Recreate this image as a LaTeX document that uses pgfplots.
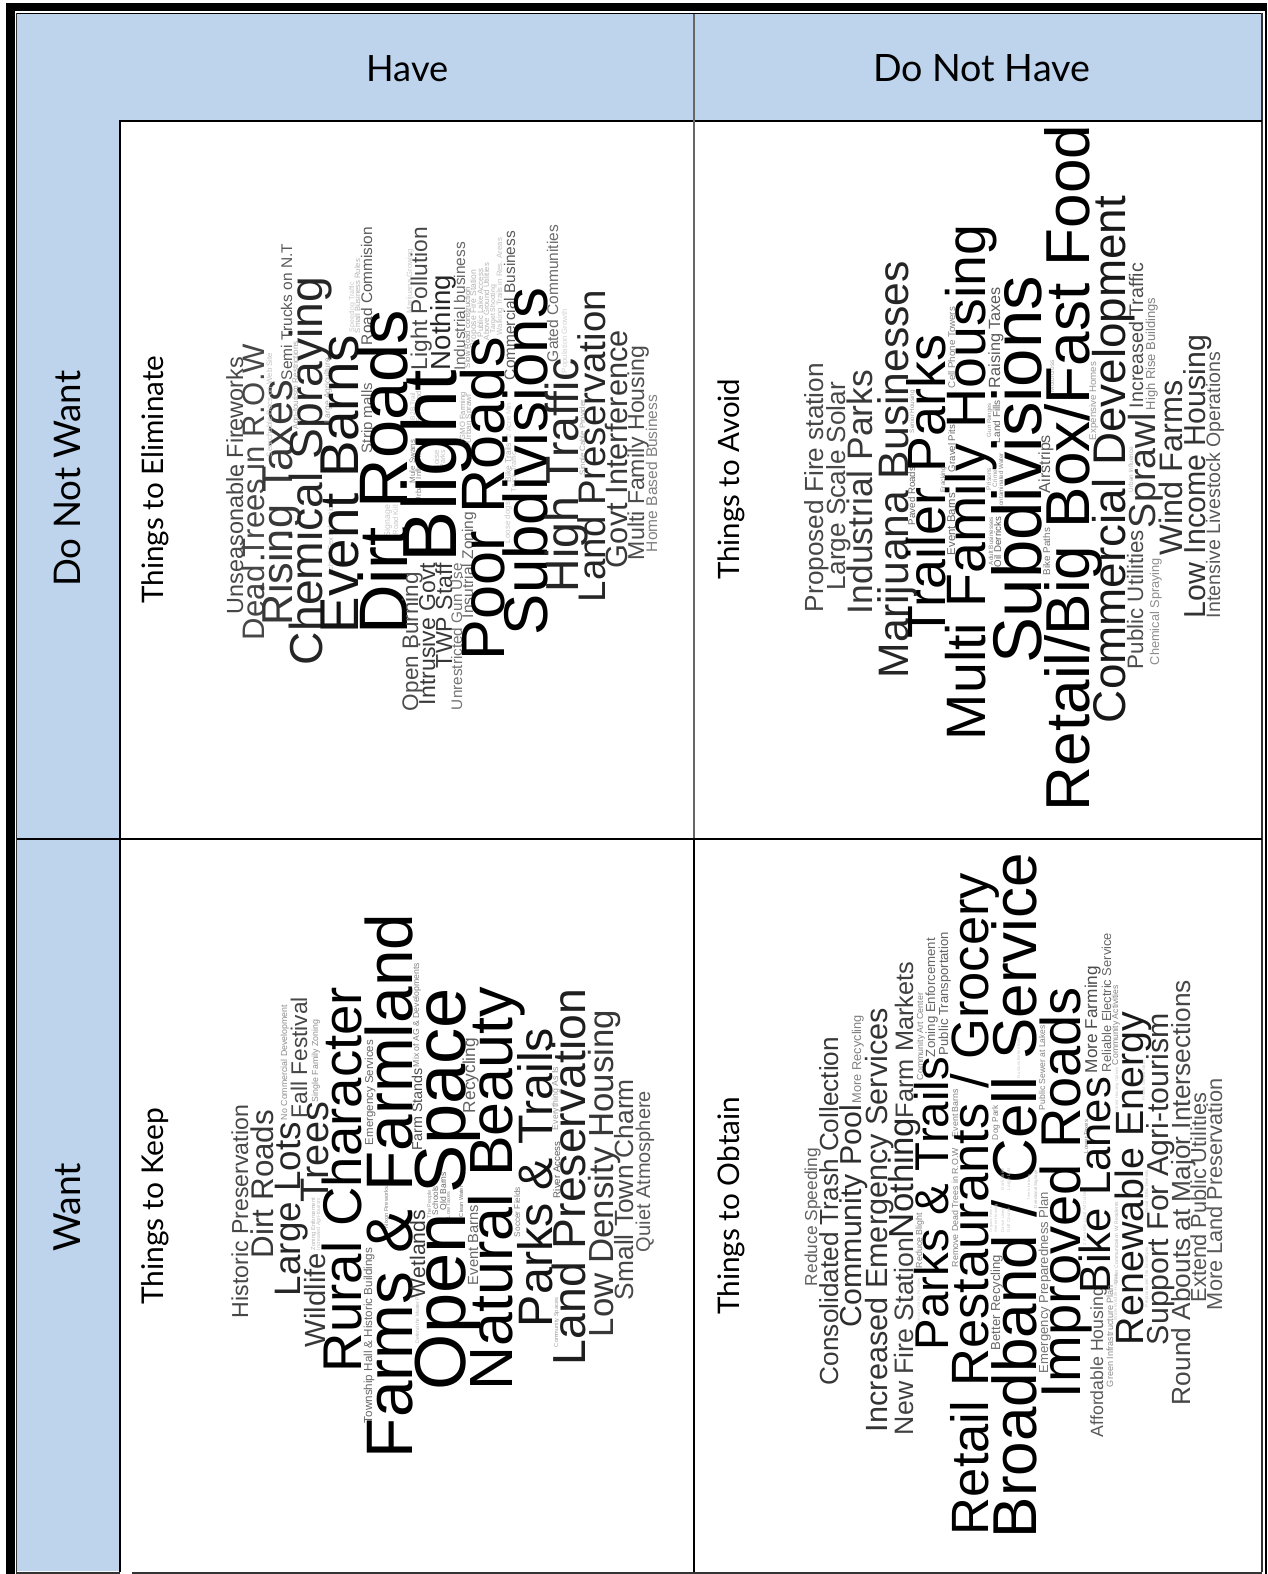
\documentclass[border=0pt]{standalone}
\usepackage{fontspec}
\setmainfont{Liberation Sans}
\newfontfamily\lab{Lato}
\usepackage{graphicx}
\usepackage{pgfplots}
\pgfplotsset{compat=1.18}

\definecolor{hdr}{HTML}{BDD4EC}

% a word fitted to a length, in the gray of its rank
\protected\def\cw#1#2#3{\resizebox{#1pt}{!}{\color{black!#2}#3}}
\newcommand{\fittext}[2]{\resizebox{#1pt}{!}{\lab #2}}

\pgfplotsset{
  cloud/.style={
    draw=none, mark=none,
    point meta=explicit symbolic,
    nodes near coords={\pgfplotspointmeta},
    every node near coord/.append style={rotate=90,anchor=base west,inner sep=0pt,outer sep=0pt},
  }
}

\begin{document}
\begin{tikzpicture}
\begin{axis}[
    name=ax,
    scale only axis, width=1267pt, height=1574pt,
    xmin=0, xmax=1267, ymin=0, ymax=1574,
    y dir=reverse, hide axis, clip=false,
]
    % header band and left column
    \addplot[fill=hdr,draw=none] coordinates {(17,14)(1261,14)(1261,120)(120,120)(120,1571)(17,1571)(17,14)};
    % outer frame
    \addplot[black,line width=9pt] coordinates {(10.5,1574)(10.5,7)};
    \addplot[black,line width=8pt] coordinates {(6,7)(1267,7)};
    \addplot[black,line width=2pt] coordinates {(1266,7)(1266,1574)};
    \addplot[black,line width=1pt] coordinates {(16,13)(1262,13)};
    \addplot[black!80,line width=1.5pt] coordinates {(16.5,13)(16.5,1572)};
    \addplot[black!80,line width=1.5pt] coordinates {(1262,13)(1262,1572)};
    \addplot[black!80,line width=2pt] coordinates {(16,1572.5)(120,1572.5)};
    \addplot[black!80,line width=2pt] coordinates {(132,1572.5)(1262,1572.5)};
    % grid
    \addplot[black,line width=2pt] coordinates {(120,120.5)(1262,120.5)};
    \addplot[black,line width=2pt] coordinates {(120,120)(120,1572)};
    \addplot[black!60,line width=2pt] coordinates {(694,14)(694,838)};
    \addplot[black,line width=2pt] coordinates {(694,838)(694,1572)};
    \addplot[black,line width=2pt] coordinates {(17,838.5)(1262,838.5)};

    \node[anchor=base west,inner sep=0pt] at (axis cs:366.5,81) {\fittext{82}{Have}};
    \node[anchor=base west,inner sep=0pt] at (axis cs:873,81) {\fittext{217}{Do Not Have}};
    \node[rotate=90,anchor=base west,inner sep=0pt] at (axis cs:80,587) {\fittext{216}{Do Not Want}};
    \node[rotate=90,anchor=base west,inner sep=0pt] at (axis cs:80,1252) {\fittext{89}{Want}};
    \node[rotate=90,anchor=base west,inner sep=0pt] at (axis cs:163.5,604) {\fittext{248}{Things to Eliminate}};
    \node[rotate=90,anchor=base west,inner sep=0pt] at (axis cs:739,580) {\fittext{201}{Things to Avoid}};
    \node[rotate=90,anchor=base west,inner sep=0pt] at (axis cs:163.5,1305) {\fittext{197}{Things to Keep}};
    \node[rotate=90,anchor=base west,inner sep=0pt] at (axis cs:739,1315) {\fittext{218}{Things to Obtain}};

    % Things to Eliminate: (baseline x, start y) [length, percent black, word]
    \addplot[cloud] coordinates {
    (243,614)[\cw{257}{72}{Unseasonable Fireworks}]
    (264,640)[\cw{296}{72}{Dead Trees in R.O.W}]
    (292,625)[\cw{245}{78}{Rising Taxes}]
    (292,380)[\cw{136}{65}{Semi Trucks on N.T}]
    (322,665)[\cw{388}{85}{Chemical Spraying}]
    (272,457)[\cw{104}{25}{Searchable Docs on Web Site}]
    (298,429)[\cw{88}{35}{Agri-tourism Restrictions}]
    (330,423)[\cw{65}{35}{Large Agriculture}]
    (333,575)[\cw{73}{25}{School Sex Education}]
    (358,633)[\cw{298}{92}{Event Barns}]
    (372,453)[\cw{70}{60}{Strip malls}]
    (372,345)[\cw{118}{65}{Road Commision}]
    (360,333)[\cw{74}{30}{Small Business Rules}]
    (354,332)[\cw{50}{22}{Speeding Traffic}]
    (412,313)[\cw{64}{22}{Marijuana Growing}]
    (390,537)[\cw{32}{22}{Signage}]
    (398,535)[\cw{30}{22}{Road Kill}]
    (407,634)[\cw{324}{100}{Dirt Roads}]
    (418,711)[\cw{139}{70}{Open Burning}]
    (435,705)[\cw{142}{78}{Intrusive Govt}]
    (452,668)[\cw{105}{78}{TWP Staff}]
    (427,370)[\cw{143}{72}{Light Pollution}]
    (415,420)[\cw{27}{25}{B2B Trail}]
    (421,422)[\cw{31}{30}{Farmland}]
    (415,483)[\cw{43}{50}{Mule Swans}]
    (421,502)[\cw{54}{50}{Urban Influence}]
    (439,470)[\cw{20}{25}{Noise}]
    (445,468)[\cw{18}{25}{Parks}]
    (450,370)[\cw{95}{85}{Nothing}]
    (456,562)[\cw{192}{100}{Blight}]
    (462,710)[\cw{147}{55}{Unrestricted Gun Use}]
    (473,618)[\cw{106}{60}{Insutrial Zoning}]
    (465,370)[\cw{128}{60}{Industrial business}]
    (470,368)[\cw{81}{40}{Slow Road construction}]
    (476,348)[\cw{78}{30}{Propose Fire Station}]
    (483,337)[\cw{68}{30}{Public Lake Access}]
    (489,340)[\cw{77}{30}{Above Ground Utilities}]
    (495,333)[\cw{48}{30}{Target Shooting}]
    (502,335)[\cw{97}{25}{Walking Trails in Res. Areas}]
    (465,440)[\cw{48}{35}{GMO Farming}]
    (471,443)[\cw{48}{35}{Urban Sprawl}]
    (504,660)[\cw{323}{100}{Poor Roads}]
    (511,438)[\cw{35}{18}{2 Acre Min}]
    (511,482)[\cw{39}{30}{Bike Trails}]
    (516,492)[\cw{40}{25}{Truck Traffic}]
    (510,543)[\cw{41}{22}{Loose dogs}]
    (515,380)[\cw{149}{65}{Commercial Business}]
    (547,635)[\cw{347}{100}{Subdivisions}]
    (558,362)[\cw{137}{58}{Gated Communities}]
    (567,373)[\cw{64}{18}{Population Growth}]
    (578,592)[\cw{234}{85}{High Traffic}]
    (585,475)[\cw{75}{35}{Single Cable Provider}]
    (605,602)[\cw{312}{85}{Land Preservation}]
    (627,568)[\cw{238}{78}{Govt Interference}]
    (644,560)[\cw{214}{70}{Multi Family Housing}]
    (657,552)[\cw{157}{50}{Home Based Business}]
    };

    % Things to Avoid
    \addplot[cloud] coordinates {
    (823,612)[\cw{249}{72}{Proposed Fire station}]
    (845,590)[\cw{208}{72}{Large Scale Solar}]
    (872,614)[\cw{244}{78}{Industrial Parks}]
    (908,678)[\cw{417}{85}{Marijuana Businesses}]
    (914,433)[\cw{43}{40}{Senior Housing}]
    (915,525)[\cw{58}{60}{Paved Roads}]
    (945,638)[\cw{303}{100}{Trailer Parks}]
    (945,492)[\cw{25}{50}{Fracking}]
    (955,388)[\cw{81}{50}{Cell Phone Towers}]
    (955,472)[\cw{47}{58}{Gravel Pits}]
    (955,555)[\cw{62}{60}{Event Barns}]
    (985,740)[\cw{515}{100}{Multi Family Housing}]
    (991,437)[\cw{34}{40}{Gun Ranges}]
    (991,490)[\cw{22}{40}{Prisons}]
    (997,487)[\cw{17}{40}{Crime}]
    (1003,510)[\cw{57}{50}{Contaminated Water}]
    (993,565)[\cw{48}{50}{Adult Businesses}]
    (1001,567)[\cw{50}{65}{Oil Derricks}]
    (1000,388)[\cw{101}{65}{Raising Taxes}]
    (1000,443)[\cw{43}{60}{Land Fills}]
    (1041,663)[\cw{387}{100}{Subdivisions}]
    (1050,493)[\cw{58}{65}{Airstrips}]
    (1050,575)[\cw{47}{55}{Bike Paths}]
    (1054,392)[\cw{32}{35}{Motorcross}]
    (1089,811)[\cw{686}{100}{Retail/Big Box/Fast Food}]
    (1096,440)[\cw{78}{40}{Expensive Homes}]
    (1125,723)[\cw{527}{90}{Commercial Development}]
    (1133,492)[\cw{45}{30}{Urban Influence}]
    (1143,669)[\cw{139}{70}{Public Utilities}]
    (1143,408)[\cw{145}{70}{Increased Traffic}]
    (1155,410)[\cw{112}{50}{High Rise Buildings}]
    (1155,528)[\cw{115}{80}{Sprawl}]
    (1159,665)[\cw{107}{45}{Chemical Spraying}]
    (1182,555)[\cw{175}{80}{Wind Farms}]
    (1205,618)[\cw{283}{80}{Low Income Housing}]
    (1220,618)[\cw{266}{65}{Intensive Livestock Operations}]
    };

    % Things to Keep
    \addplot[cloud] coordinates {
    (248,1318)[\cw{213}{72}{Historic Preservation}]
    (273,1258)[\cw{148}{78}{Dirt Roads}]
    (300,1296)[\cw{174}{85}{Large Lots}]
    (287,1120)[\cw{115}{45}{No Commercial Development}]
    (307,1118)[\cw{121}{72}{Fall Festival}]
    (318,1102)[\cw{82}{45}{Single Family Zoning}]
    (328,1202)[\cw{100}{85}{Trees}]
    (325,1347)[\cw{94}{78}{Wildlife}]
    (315,1250)[\cw{52}{30}{Zoning Enforcement}]
    (320,1250)[\cw{52}{25}{Increased Agri-tourism}]
    (361,1372)[\cw{385}{100}{Rural Character}]
    (373,1145)[\cw{105}{60}{Emergency Services}]
    (372,1423)[\cw{175}{60}{Township Hall \& Historic Buildings}]
    (388,1228)[\cw{41}{50}{Nixon Fireworks}]
    (412,1458)[\cw{544}{100}{Farms \& Farmland}]
    (419,1343)[\cw{53}{30}{Defend the Master Plan}]
    (422,1150)[\cw{82}{70}{Farm Stands}]
    (419,1067)[\cw{104}{50}{Mix of AG \& Developments}]
    (425,1298)[\cw{88}{78}{Wetlands}]
    (431,1218)[\cw{28}{40}{The People}]
    (438,1215)[\cw{29}{55}{Schools}]
    (446,1210)[\cw{38}{60}{Old Barns}]
    (450,1218)[\cw{26}{45}{Low Taxes}]
    (463,1217)[\cw{31}{55}{Clean Water}]
    (465,1390)[\cw{402}{100}{Open Space}]
    (475,1113)[\cw{75}{62}{Recycling}]
    (478,1285)[\cw{80}{60}{Event Barns}]
    (512,1390)[\cw{403}{100}{Natural Beauty}]
    (520,1237)[\cw{50}{50}{Soccer Fields}]
    (552,1327)[\cw{299}{92}{Parks \& Trails}]
    (558,1347)[\cw{49}{40}{Community Spaces}]
    (560,1198)[\cw{56}{65}{River Access}]
    (558,1130)[\cw{63}{40}{Everything As Is}]
    (585,1365)[\cw{376}{88}{Land Preservation}]
    (613,1337)[\cw{327}{78}{Low Density Housing}]
    (633,1300)[\cw{221}{72}{Small Town Charm}]
    (650,1252)[\cw{161}{65}{Quiet Atmosphere}]
    };

    % Things to Obtain
    \addplot[cloud] coordinates {
    (817,1286)[\cw{138}{62}{Reduce Speeding}]
    (838,1385)[\cw{348}{78}{Consolidated Trash Collection}]
    (861,1327)[\cw{222}{82}{Community Pool}]
    (861,1103)[\cw{88}{50}{More Recycling}]
    (887,1432)[\cw{424}{80}{Increased Emergency Services}]
    (913,1435)[\cw{197}{75}{New Fire Station}]
    (913,1238)[\cw{120}{85}{Nothing}]
    (913,1118)[\cw{156}{75}{Farm Markets}]
    (922,1268)[\cw{55}{50}{Reduce Blight}]
    (920,1323)[\cw{45}{18}{Secure Voting Facilities}]
    (923,1080)[\cw{87}{50}{Community Art Center}]
    (935,1057)[\cw{119}{60}{Zoning Enforcement}]
    (948,1055)[\cw{123}{62}{Public Transportation}]
    (948,1350)[\cw{293}{100}{Parks \& Trails}]
    (958,1137)[\cw{48}{50}{Event Barns}]
    (958,1267)[\cw{119}{50}{Remove Dead Trees in R.O.W}]
    (988,1535)[\cw{662}{100}{Retail Restaurants / Grocery}]
    (998,1140)[\cw{35}{50}{Dog Park}]
    (1000,1350)[\cw{95}{60}{Better Recycling}]
    (1036,1538)[\cw{685}{100}{Broadband / Cell Service}]
    (992,1232)[\cw{25}{22}{Organic Farms}]
    (997,1232)[\cw{28}{22}{Senior Housing}]
    (1004,1232)[\cw{24}{22}{Dance Livery}]
    (1010,1232)[\cw{24}{22}{Golf Course}]
    (1004,1190)[\cw{22}{22}{Dark Skies}]
    (1010,1190)[\cw{22}{22}{Large Lots}]
    (1020,1078)[\cw{41}{22}{No Guns Before Bulls}]
    (1030,1200)[\cw{25}{22}{Tree Initiatives}]
    (1037,1208)[\cw{38}{30}{Directional Signage}]
    (1045,1110)[\cw{85}{50}{Public Sewer at Lakes}]
    (1048,1373)[\cw{181}{55}{Emergency Preparedness Plan}]
    (1080,1398)[\cw{411}{100}{Improved Roads}]
    (1086,1245)[\cw{55}{20}{2 Acre Min Local Art Outlets}]
    (1088,1153)[\cw{33}{50}{Lower Taxes}]
    (1097,1073)[\cw{107}{70}{More Farming}]
    (1103,1437)[\cw{150}{65}{Affordable Housing}]
    (1110,1293)[\cw{216}{95}{Bike Lanes}]
    (1111,1072)[\cw{139}{60}{Reliable Electric Service}]
    (1113,1387)[\cw{102}{45}{Green Infrastructure Plan}]
    (1117,1320)[\cw{45}{22}{Wide Wildlife Habitat}]
    (1118,1283)[\cw{81}{30}{Better Communication W/ Residents}]
    (1118,1112)[\cw{45}{22}{Varied Housing Options}]
    (1118,1065)[\cw{80}{50}{Community Activities}]
    (1143,1345)[\cw{333}{90}{Renewable Energy}]
    (1145,1100)[\cw{40}{22}{Protect Ground Water}]
    (1148,1213)[\cw{43}{25}{Social / Ethic Diversity}]
    (1148,1307)[\cw{60}{22}{Preprocessed Tax Envelopes}]
    (1168,1345)[\cw{332}{80}{Support For Agri-tourism}]
    (1190,1405)[\cw{425}{72}{Round Abouts at Major Intersections}]
    (1206,1302)[\cw{209}{68}{Extend Public Utilities}]
    (1222,1310)[\cw{232}{65}{More Land Preservation}]
    };
\end{axis}
% keep the page at exactly the axis box
\pgfresetboundingbox
\path[use as bounding box] (ax.south west) rectangle (ax.north east);
\end{tikzpicture}
\end{document}
